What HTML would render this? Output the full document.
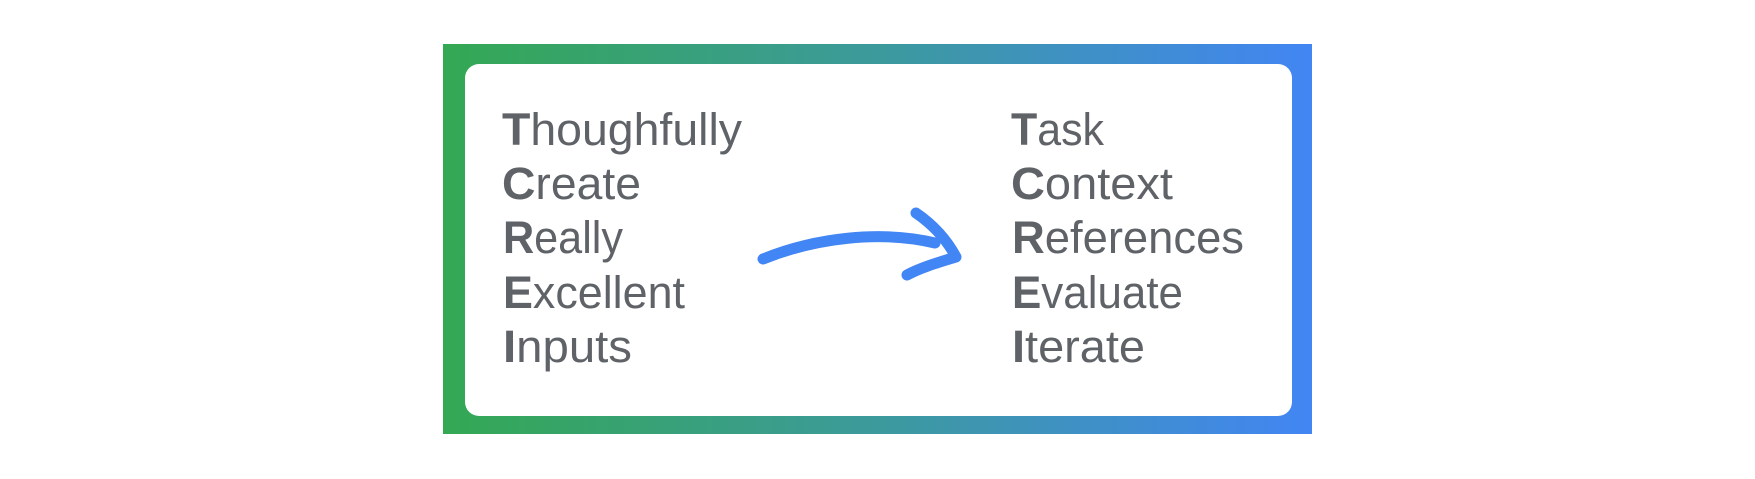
<!DOCTYPE html>
<html><head><meta charset="utf-8"><style>
html,body{margin:0;padding:0;background:#fff;width:1755px;height:479px;overflow:hidden}
</style></head><body>
<svg width="1755" height="479" viewBox="0 0 1755 479" xmlns="http://www.w3.org/2000/svg">
<defs><linearGradient id="g" x1="0" x2="1" y1="0" y2="0">
<stop offset="0" stop-color="#34a853"/><stop offset="0.5" stop-color="#3c9a9c"/><stop offset="1" stop-color="#4285f4"/></linearGradient></defs>
<rect x="443" y="44" width="869" height="390" fill="url(#g)"/>
<rect x="465" y="64" width="827" height="352" rx="14" fill="#fff"/>
<g font-family="Liberation Sans, sans-serif" font-size="45" fill="#5f6368">
<text x="502" y="145" textLength="240" lengthAdjust="spacingAndGlyphs"><tspan font-weight="bold">T</tspan>houghfully</text>
<text x="502" y="199" textLength="139" lengthAdjust="spacingAndGlyphs"><tspan font-weight="bold">C</tspan>reate</text>
<text x="503" y="253" textLength="120" lengthAdjust="spacingAndGlyphs"><tspan font-weight="bold">R</tspan>eally</text>
<text x="503" y="308" textLength="182" lengthAdjust="spacingAndGlyphs"><tspan font-weight="bold">E</tspan>xcellent</text>
<text x="503" y="362" textLength="129" lengthAdjust="spacingAndGlyphs"><tspan font-weight="bold">I</tspan>nputs</text>
<text x="1011" y="145" textLength="93" lengthAdjust="spacingAndGlyphs"><tspan font-weight="bold">T</tspan>ask</text>
<text x="1011" y="199" textLength="162" lengthAdjust="spacingAndGlyphs"><tspan font-weight="bold">C</tspan>ontext</text>
<text x="1012" y="253" textLength="232" lengthAdjust="spacingAndGlyphs"><tspan font-weight="bold">R</tspan>eferences</text>
<text x="1012" y="308" textLength="171" lengthAdjust="spacingAndGlyphs"><tspan font-weight="bold">E</tspan>valuate</text>
<text x="1012" y="362" textLength="133" lengthAdjust="spacingAndGlyphs"><tspan font-weight="bold">I</tspan>terate</text>
</g>
<g fill="none" stroke="#4285f4" stroke-width="11" stroke-linecap="round" stroke-linejoin="round">
<path d="M763 259 C815 238 880 230 935 243"/>
<path d="M916 213 C935 226 948 242 956 257 C940 262 922 267 907 275"/>
</g>
</svg>
</body></html>
